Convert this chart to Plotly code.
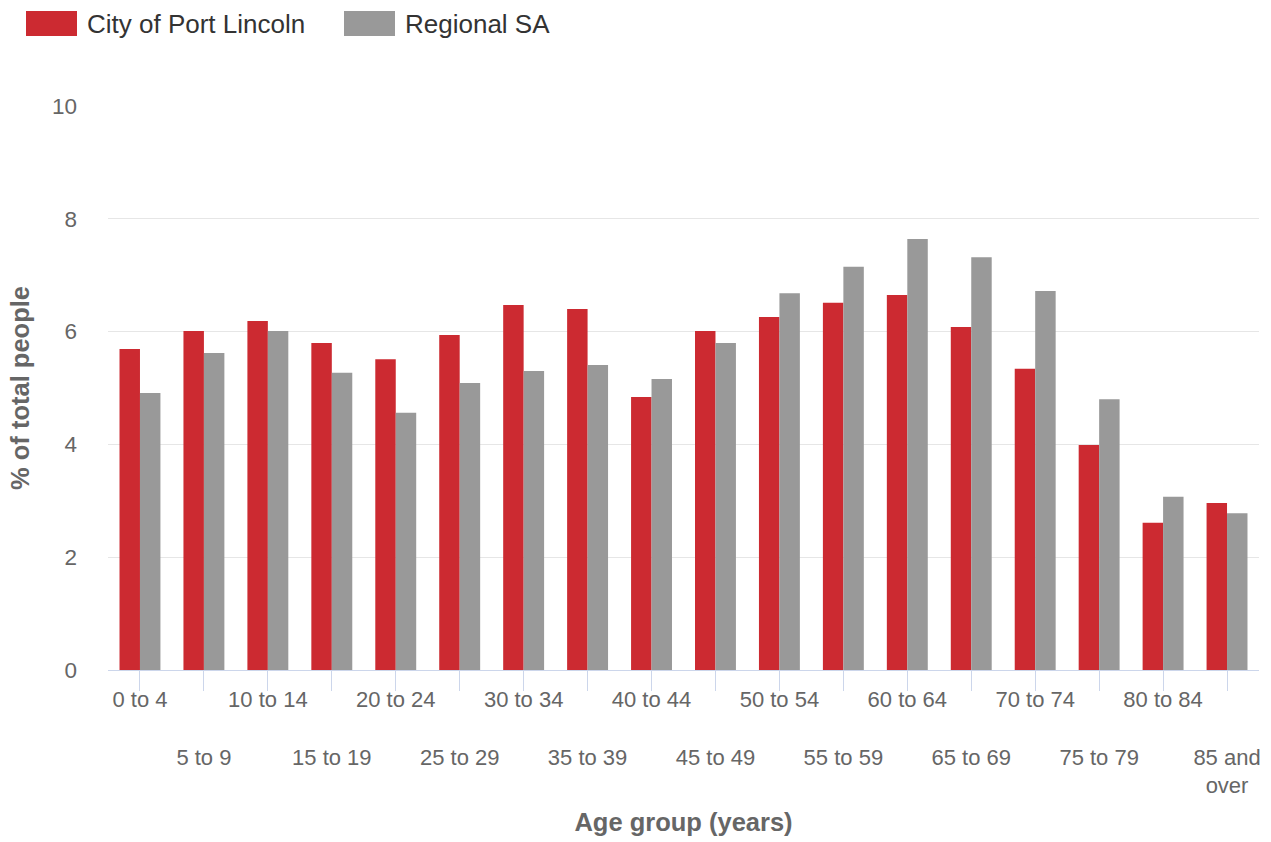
import plotly.graph_objects as go

categories = ["0 to 4", "5 to 9", "10 to 14", "15 to 19", "20 to 24", "25 to 29",
              "30 to 34", "35 to 39", "40 to 44", "45 to 49", "50 to 54", "55 to 59",
              "60 to 64", "65 to 69", "70 to 74", "75 to 79", "80 to 84", "85 and over"]
port_lincoln = [5.69, 6.01, 6.19, 5.80, 5.51, 5.94, 6.47, 6.40, 4.84, 6.01,
                6.26, 6.51, 6.65, 6.08, 5.34, 3.99, 2.61, 2.96]
regional_sa = [4.91, 5.62, 6.01, 5.27, 4.56, 5.09, 5.30, 5.41, 5.16, 5.80,
               6.68, 7.15, 7.64, 7.32, 6.72, 4.80, 3.07, 2.78]
y_ticks = [0, 2, 4, 6, 8, 10]
series_names = ["City of Port Lincoln", "Regional SA"]

RED = "#CC2A31"
GREY = "#999999"
FONT = "Liberation Sans, Arial, sans-serif"

W, H = 1271, 842
ML, MR, MT, MB = 108, 12, 106, 172
PW, PH = W - ML - MR, H - MT - MB

xs = list(range(len(categories)))
ticktext = []
for i, c in enumerate(categories):
    label = c.replace("85 and over", "85 and<br>over")
    ticktext.append(label if i % 2 == 0 else "<br><br>" + label)

fig = go.Figure()
fig.add_trace(go.Bar(x=xs, y=port_lincoln, name=series_names[0],
                     marker=dict(color=RED, line=dict(width=0)), showlegend=False))
fig.add_trace(go.Bar(x=xs, y=regional_sa, name=series_names[1],
                     marker=dict(color=GREY, line=dict(width=0)), showlegend=False))

# custom legend (keys drawn as wide rectangles like the reference)
def px_x(p):
    return (p - ML) / PW

def px_y(p):
    return (H - MB - p) / PH

legend_items = [(series_names[0], RED, 26), (series_names[1], GREY, 344)]
for name, col, left in legend_items:
    fig.add_shape(type="rect", xref="paper", yref="paper",
                  x0=px_x(left), x1=px_x(left + 51), y0=px_y(36), y1=px_y(11),
                  fillcolor=col, line=dict(width=0))
    fig.add_annotation(xref="paper", yref="paper", x=px_x(left + 59), y=px_y(23.5),
                       xanchor="left", yanchor="middle", text=name, showarrow=False,
                       font=dict(size=26, color="#333333", family=FONT))

fig.update_layout(
    width=W, height=H,
    margin=dict(l=ML, r=MR, t=MT, b=MB, autoexpand=False),
    paper_bgcolor="white", plot_bgcolor="white",
    font=dict(family=FONT, color="#666666"),
    barmode="group", bargap=0.36, bargroupgap=0,
    showlegend=False,
    xaxis=dict(range=[-0.5, len(categories) - 0.5], tickmode="array",
               tickvals=xs, ticktext=ticktext, tickangle=0, automargin=False,
               tickfont=dict(size=22, color="#666666"), ticklabelstandoff=-10,
               ticks="outside", ticklen=20, tickcolor="#ccd6eb", tickwidth=1,
               showline=True, linecolor="#ccd6eb", linewidth=1,
               showgrid=False, zeroline=False,
               title=dict(text="<b>Age group (years)</b>",
                          font=dict(size=25.5, color="#666666"), standoff=15)),
    yaxis=dict(range=[0, 10], tickmode="array", tickvals=y_ticks, automargin=False,
               tickfont=dict(size=22.5, color="#666666"),
               showgrid=True, gridcolor="#e6e6e6", gridwidth=1,
               zeroline=False, showline=False, ticklabelstandoff=30,
               title=dict(text="<b>% of total people</b>",
                          font=dict(size=25.5, color="#666666"), standoff=15)),
)

fig.write_html("out.html", config={"displayModeBar": False},
               post_script="document.body.style.margin='0px';document.body.style.overflow='hidden';")
